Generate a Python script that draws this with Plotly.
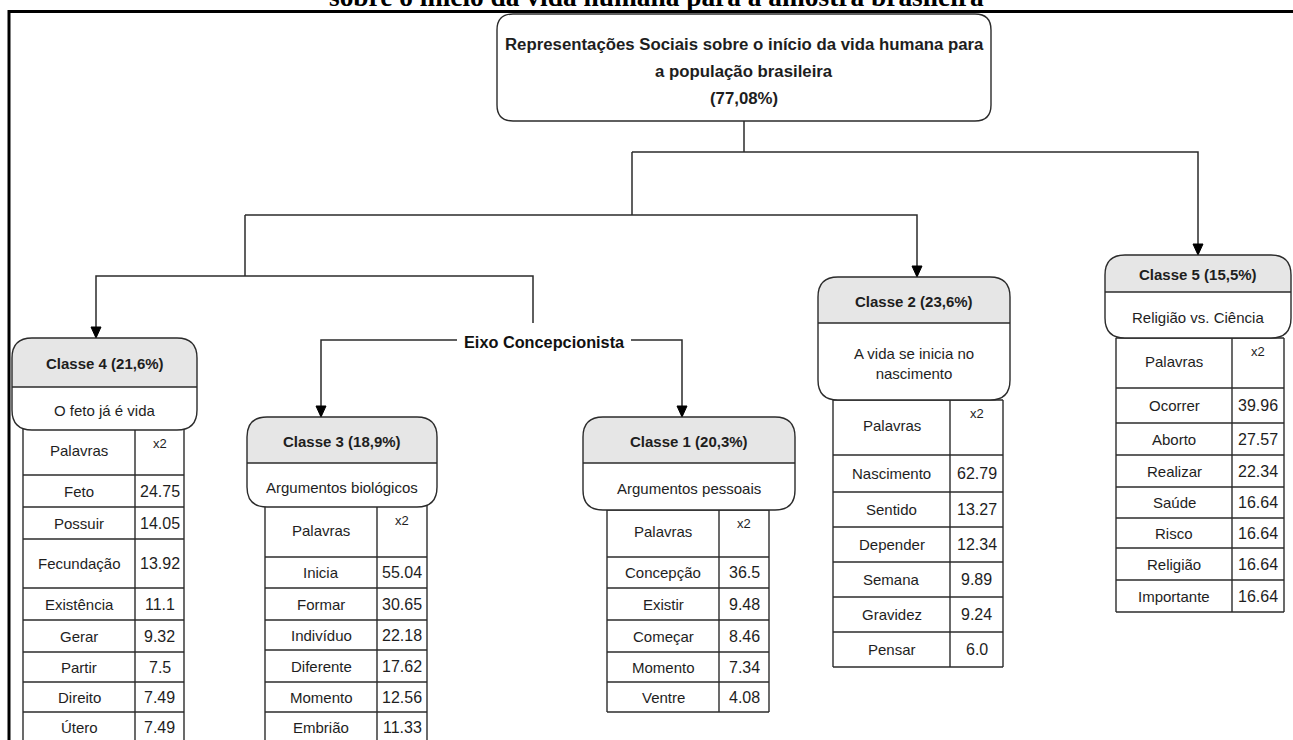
import plotly.graph_objects as go

W, H = 1293, 740

# ---------------- data (text content) ----------------
title_text = "sobre o início da vida humana para a amostra brasileira"
root_lines = ["Representações Sociais sobre o início da vida humana para",
              "a população brasileira", "(77,08%)"]
axis_label = "Eixo Concepcionista"
col_headers = ["Palavras", "x2"]

class_names = ["Classe 4 (21,6%)", "Classe 3 (18,9%)", "Classe 1 (20,3%)",
               "Classe 2 (23,6%)", "Classe 5 (15,5%)"]
class_subtitles = ["O feto já é vida", "Argumentos biológicos", "Argumentos pessoais",
                   "A vida se inicia no<br>nascimento", "Religião vs. Ciência"]

c4_words = ["Feto", "Possuir", "Fecundação", "Existência", "Gerar", "Partir", "Direito", "Útero"]
c4_chi2 = [24.75, 14.05, 13.92, 11.1, 9.32, 7.5, 7.49, 7.49]
c3_words = ["Inicia", "Formar", "Indivíduo", "Diferente", "Momento", "Embrião"]
c3_chi2 = [55.04, 30.65, 22.18, 17.62, 12.56, 11.33]
c1_words = ["Concepção", "Existir", "Começar", "Momento", "Ventre"]
c1_chi2 = [36.5, 9.48, 8.46, 7.34, 4.08]
c2_words = ["Nascimento", "Sentido", "Depender", "Semana", "Gravidez", "Pensar"]
c2_chi2 = [62.79, 13.27, 12.34, 9.89, 9.24, 6.0]
c5_words = ["Ocorrer", "Aborto", "Realizar", "Saúde", "Risco", "Religião", "Importante"]
c5_chi2 = [39.96, 27.57, 22.34, 16.64, 16.64, 16.64, 16.64]

# ---------------- layout (positions / styles) ----------------
FONT = "Liberation Sans, Arial, sans-serif"
LINE = "#2b2b2b"
TXT = "#1e1e1e"
HEADER_FILL = "#e6e6e6"

root_box = (497, 14, 991, 121)
box_geom = [  # x0, y0, x1, y1, ydiv
    (12, 338, 197, 430, 387),
    (247, 417, 437, 507, 463),
    (583, 417, 795, 510, 463),
    (818, 277, 1010, 400, 323),
    (1105, 255, 1291, 338, 292),
]
table_cols = [(23, 135, 184), (265, 377, 427), (607, 719, 769), (833, 950, 1003), (1116, 1232, 1284)]
table_rows = [
    [427, 475, 507, 539, 588, 620, 652, 682, 712, 742],
    [505, 557, 588, 620, 650, 682, 712, 742],
    [510, 557, 588, 620, 652, 682, 712],
    [400, 455, 492, 527, 562, 597, 632, 667],
    [338, 388, 423, 455, 487, 518, 548, 580, 612],
]
words_all = [c4_words, c3_words, c1_words, c2_words, c5_words]
chi_all = [c4_chi2, c3_chi2, c1_chi2, c2_chi2, c5_chi2]

connectors = [  # polylines
    [(744, 121), (744, 152)],
    [(632, 152), (1198, 152), (1198, 255)],
    [(632, 152), (632, 215)],
    [(245, 215), (917, 215), (917, 277)],
    [(245, 215), (245, 276)],
    [(96, 338), (96, 276), (533, 276), (533, 323)],
    [(321, 417), (321, 340), (457, 340)],
    [(631, 340), (682, 340), (682, 417)],
]
arrow_tips = [(1198, 255), (917, 277), (96, 338), (321, 417), (682, 417)]

shapes = []
annotations = []


def rrect(x0, y0, x1, y1, r):
    return (f"M {x0+r},{y0} L {x1-r},{y0} Q {x1},{y0} {x1},{y0+r} L {x1},{y1-r} "
            f"Q {x1},{y1} {x1-r},{y1} L {x0+r},{y1} Q {x0},{y1} {x0},{y1-r} "
            f"L {x0},{y0+r} Q {x0},{y0} {x0+r},{y0} Z")


def top_rrect(x0, y0, x1, y1, r):
    return (f"M {x0},{y1} L {x0},{y0+r} Q {x0},{y0} {x0+r},{y0} L {x1-r},{y0} "
            f"Q {x1},{y0} {x1},{y0+r} L {x1},{y1} Z")


def text(x, y, s, size, bold=False, family=FONT, color=TXT, yshift=0):
    annotations.append(dict(x=x, y=y, xref="x", yref="y", text=(f"<b>{s}</b>" if bold else s),
                            showarrow=False, xanchor="center", yanchor="middle", yshift=yshift,
                            font=dict(family=family, size=size, color=color)))


# frame
shapes.append(dict(type="line", x0=8, y0=11.5, x1=W, y1=11.5, line=dict(color="black", width=3)))
shapes.append(dict(type="line", x0=9, y0=10, x1=9, y1=H, line=dict(color="black", width=3)))
# title, cut off at the top edge as in the reference
text(656, 0, title_text, 27.4, bold=True, family="Liberation Serif, Times New Roman, serif",
     color="black", yshift=2.8)

# connectors
for pl in connectors:
    d = "M " + " L ".join(f"{x},{y}" for x, y in pl)
    shapes.append(dict(type="path", path=d, line=dict(color=LINE, width=1.5)))
for (x, y) in arrow_tips:
    shapes.append(dict(type="path", path=f"M {x-5},{y-11} L {x+5},{y-11} L {x},{y} Z",
                       fillcolor="black", line=dict(color="black", width=1)))

# root box
x0, y0, x1, y1 = root_box
shapes.append(dict(type="path", path=rrect(x0, y0, x1, y1, 16), fillcolor="white",
                   line=dict(color=LINE, width=1.4)))
for i, s in enumerate(root_lines):
    text((x0 + x1) / 2, 44 + 27 * i, s, 16.8, bold=True)

# Eixo label
text(544, 342, axis_label, 16.3, bold=True, color="#111111")

# classes
for k in range(5):
    bx0, by0, bx1, by1, ydiv = box_geom[k]
    c0, c1, c2 = table_cols[k]
    rows = table_rows[k]
    # table
    for yy in rows:
        shapes.append(dict(type="line", x0=c0, y0=yy, x1=c2, y1=yy, line=dict(color=LINE, width=1.4)))
    for xx in (c0, c1, c2):
        shapes.append(dict(type="line", x0=xx, y0=rows[0], x1=xx, y1=rows[-1], line=dict(color=LINE, width=1.4)))
    eff_top = max(rows[0], by1)
    text((c0 + c1) / 2, (eff_top + rows[1]) / 2 - 2, col_headers[0], 15)
    text((c1 + c2) / 2, eff_top + 13, col_headers[1], 13)
    for j, (w, v) in enumerate(zip(words_all[k], chi_all[k])):
        ym = (rows[j + 1] + rows[j + 2]) / 2
        text((c0 + c1) / 2, ym, w, 15)
        text((c1 + c2) / 2, ym, str(v), 16)
    # box
    shapes.append(dict(type="path", path=rrect(bx0, by0, bx1, by1, 20), fillcolor="white",
                       line=dict(width=0)))
    shapes.append(dict(type="path", path=top_rrect(bx0, by0, bx1, ydiv, 20), fillcolor=HEADER_FILL,
                       line=dict(width=0)))
    shapes.append(dict(type="path", path=rrect(bx0, by0, bx1, by1, 20),
                       line=dict(color=LINE, width=1.4)))
    shapes.append(dict(type="line", x0=bx0, y0=ydiv, x1=bx1, y1=ydiv, line=dict(color=LINE, width=1.4)))
    text((bx0 + bx1) / 2, (by0 + ydiv) / 2 + 1, class_names[k], 15, bold=True)
    text((bx0 + bx1) / 2, (ydiv + by1) / 2 + 2, class_subtitles[k], 15)

fig = go.Figure()
fig.update_layout(
    width=W, height=H, margin=dict(l=0, r=0, t=0, b=0),
    paper_bgcolor="white", plot_bgcolor="white",
    xaxis=dict(range=[0, W], visible=False, fixedrange=True),
    yaxis=dict(range=[H, 0], visible=False, fixedrange=True),
    shapes=shapes, annotations=annotations, showlegend=False,
)
fig.write_html("out.html", config={"displayModeBar": False},
               post_script="document.body.style.margin='0';")
